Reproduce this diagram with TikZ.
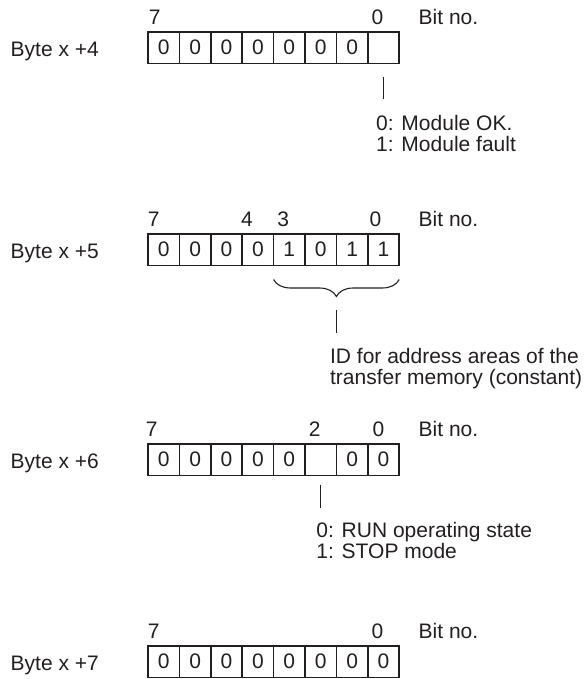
\documentclass[tikz,border=0pt]{standalone}
\usepackage{fontspec}
\setmainfont{Liberation Sans}
\usetikzlibrary{calc,decorations.pathreplacing}
\definecolor{ink}{RGB}{35,31,32}
\tikzset{
  cell/.style={draw=ink,line width=1.6pt,minimum width=31.4pt,minimum height=31.5pt,
               inner sep=0pt,outer sep=0pt,text=ink},
  bitno/.style={anchor=base,inner sep=0pt,text=ink},
  bytelbl/.style={anchor=base west,inner sep=0pt,text=ink},
  note/.style={anchor=north west,align=left,inner sep=0pt,text=ink,
               font=\fontsize{21}{21}\selectfont},
  lead/.style={draw=ink,line width=1.1pt},
  brc/.style={draw=ink,line width=1.1pt,decorate,
              decoration={brace,amplitude=17pt,aspect=0.5}},
}

\begin{document}
\begin{tikzpicture}[x=1pt,y=-1pt,font=\fontsize{21}{21}\selectfont]
  \useasboundingbox (0,0) rectangle (585,679);

  % byte x+4
  \foreach \v [count=\i from 0] in {0,0,0,0,0,0,0,{}}{
    \pgfmathtruncatemacro\b{7-\i}
    \node[cell] (r4-\b) at (163.7+\i*31.4,47.75) {\v};
  }
  \node[bytelbl] (byte4) at (10.5,56.2) {Byte x +4};
  \foreach \b/\dx in {7/-9,0/-6}
    \node[bitno] (n4-\b) at ($(r4-\b.north)+(\dx,-7.5)$) {\b};
  \node[bytelbl] (bit4) at (418.5,24.5) {Bit no.};
  \coordinate (m4a) at ($(r4-0.south)+(0,14)$);
  \coordinate (m4b) at ($(m4a)+(0,22)$);
  \draw[lead] (m4a) -- (m4b);
  \node[note] (m4txt) at ($(m4b)+(-7.5,16)$) {0: Module OK.\\1: Module fault};

  % byte x+5
  \foreach \v [count=\i from 0] in {0,0,0,0,1,0,1,1}{
    \pgfmathtruncatemacro\b{7-\i}
    \node[cell] (r5-\b) at (163.7+\i*31.4,249.75) {\v};
  }
  \node[bytelbl] (byte5) at (10.5,258.2) {Byte x +5};
  \foreach \b/\dx in {7/-10,4/-11,3/-6,0/-8}
    \node[bitno] (n5-\b) at ($(r5-\b.north)+(\dx,-7.5)$) {\b};
  \node[bytelbl] (bit5) at (418.5,226.5) {Bit no.};
  \coordinate (br5a) at ($(r5-0.south east)+(0,14)$);
  \coordinate (br5b) at ($(r5-3.south west)+(0,14)$);
  \draw[brc] (br5a) -- (br5b);
  \coordinate (m5a) at ($(br5a)!0.5!(br5b)+(0,30)$);
  \coordinate (m5b) at ($(m5a)+(0,23)$);
  \draw[lead] (m5a) -- (m5b);
  \node[note] (m5txt) at ($(m5b)+(-6.5,15.5)$)
    {ID for address areas of the\\transfer memory (constant)};

  % byte x+6
  \foreach \v [count=\i from 0] in {0,0,0,0,0,{},0,0}{
    \pgfmathtruncatemacro\b{7-\i}
    \node[cell] (r6-\b) at (163.7+\i*31.4,459.75) {\v};
  }
  \node[bytelbl] (byte6) at (10.5,468.2) {Byte x +6};
  \foreach \b/\dx in {7/-12,2/-6,0/-5}
    \node[bitno] (n6-\b) at ($(r6-\b.north)+(\dx,-7.5)$) {\b};
  \node[bytelbl] (bit6) at (418.5,436.5) {Bit no.};
  \coordinate (m6a) at ($(r6-2.south)+(0,9)$);
  \coordinate (m6b) at ($(m6a)+(0,23)$);
  \draw[lead] (m6a) -- (m6b);
  \node[note] (m6txt) at ($(m6b)+(-4.5,14.5)$) {0: RUN operating state\\1: STOP mode};

  % byte x+7
  \foreach \v [count=\i from 0] in {0,0,0,0,0,0,0,0}{
    \pgfmathtruncatemacro\b{7-\i}
    \node[cell] (r7-\b) at (163.7+\i*31.4,661.75) {\v};
  }
  \node[bytelbl] (byte7) at (10.5,670.2) {Byte x +7};
  \foreach \b/\dx in {7/-10,0/-6}
    \node[bitno] (n7-\b) at ($(r7-\b.north)+(\dx,-7.5)$) {\b};
  \node[bytelbl] (bit7) at (418.5,638.5) {Bit no.};
\end{tikzpicture}
\end{document}
